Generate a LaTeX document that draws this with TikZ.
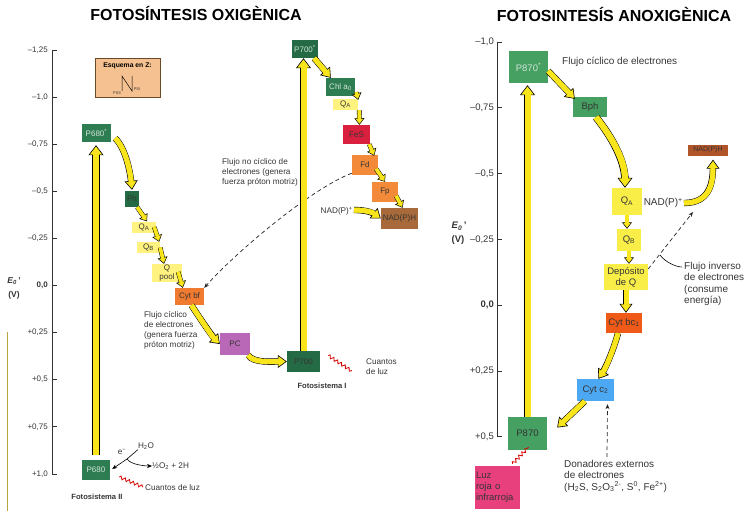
\documentclass[tikz,border=0pt]{standalone}
\usepackage{fontspec}
\setmainfont{Liberation Sans}
\usetikzlibrary{arrows.meta,calc,decorations.pathmorphing}

\definecolor{amarillo}{HTML}{F8E51C}
\definecolor{amclaro}{HTML}{FFF27E}
\definecolor{amvivo}{HTML}{F9EE48}
\definecolor{verdeosc}{HTML}{236A45}
\definecolor{verde}{HTML}{2E7D52}
\definecolor{verdecl}{HTML}{45A062}
\definecolor{verdetexto}{HTML}{D2E4D8}
\definecolor{naranja}{HTML}{F07A30}
\definecolor{naranjacl}{HTML}{F28A3A}
\definecolor{naranjaosc}{HTML}{F05A18}
\definecolor{rojo}{HTML}{D9203E}
\definecolor{marron}{HTML}{A86A3A}
\definecolor{marron2}{HTML}{B0552A}
\definecolor{marronosc}{HTML}{6B4A2A}
\definecolor{morado}{HTML}{B868B6}
\definecolor{tostado}{HTML}{F5C190}
\definecolor{azul}{HTML}{4CA8F2}
\definecolor{rosa}{HTML}{E8407C}
\definecolor{texto}{HTML}{353535}
\definecolor{olivo}{HTML}{B9A43E}

\tikzset{
  caja/.style={inner sep=0pt, align=center, text=texto, font=\fontsize{8}{9}\selectfont},
  cajader/.style={caja, font=\fontsize{9.5}{11}\selectfont},
  etiqueta/.style={inner sep=0pt, align=left, text=texto, font=\fontsize{8.2}{10}\selectfont},
  etiquetader/.style={etiqueta, font=\fontsize{10}{11.5}\selectfont},
  titulo/.style={inner sep=0pt, font=\bfseries\fontsize{16}{18}\selectfont},
  flechagran/.style={draw=amarillo, line width=6pt,
    -{Triangle[length=10pt,width=15pt,line width=0.6pt,color=black,fill=amarillo]},
    preaction={draw=black, line width=7.4pt, arrows=-, shorten >=7pt},
    postaction={draw=amarillo, line width=6pt, arrows=-, shorten >=8.6pt}},
  flecha/.style={draw=amarillo, line width=5pt,
    -{Triangle[length=9pt,width=13pt,line width=0.6pt,color=black,fill=amarillo]},
    preaction={draw=black, line width=6.3pt, arrows=-, shorten >=6pt},
    postaction={draw=amarillo, line width=5pt, arrows=-, shorten >=7.7pt}},
  flechita/.style={draw=amarillo, line width=3.4pt,
    -{Triangle[length=6.5pt,width=10pt,line width=0.5pt,color=black,fill=amarillo]},
    preaction={draw=black, line width=4.6pt, arrows=-, shorten >=4pt},
    postaction={draw=amarillo, line width=3.4pt, arrows=-, shorten >=5.4pt}},
  luz/.style={draw=red!85!black, line width=0.8pt, decorate,
    decoration={snake, amplitude=1.6pt, segment length=4.5pt}},
  discont/.style={draw=black!85, line width=0.7pt, dash pattern=on 4pt off 3pt,
    -{Stealth[length=5pt,width=4pt]}}
}

\begin{document}
\begin{tikzpicture}[x=1pt,y=-1pt]
\useasboundingbox (0,0) rectangle (753,511);

% titulos
\node[titulo] (tit1) at (196,13) {FOTOSÍNTESIS OXIGÈNICA};
\node[titulo] (tit2) at (614,14) {FOTOSINTESÍS ANOXIGÈNICA};

\draw[olivo, line width=1pt] (7,332) -- (7,511);

% eje izquierdo
\draw[line width=0.8pt, black!80] (52,50) -- (52,474);
\foreach \i/\t in {0/{–1,25},1/{–1,0},2/{–0,75},3/{–0,5},4/{–0,25},5/{\textbf{0,0}},6/{+0,25},7/{+0,5},8/{+0,75},9/{+1,0}} {
  \draw[line width=0.8pt, black!80] (52,50+47.1*\i) -- (57,50+47.1*\i);
  \node[etiqueta, anchor=east, font=\fontsize{8}{9}\selectfont] at (48,50+47.1*\i) {\t};
}
\node[etiqueta, font=\bfseries\fontsize{8.5}{10}\selectfont] (E1) at (14,281) {\textit{E}\textsubscript{\textit{0}}\,'};
\node[etiqueta, font=\bfseries\fontsize{8.5}{10}\selectfont] (V1) at (14,295) {(V)};

% esquema en Z
\node[caja, fill=tostado, draw=marronosc, line width=0.6pt, minimum width=65pt, minimum height=39pt] (esquema) at (127.5,77.5) {};
\node[caja, text=black, font=\bfseries\fontsize{6.8}{8}\selectfont] (esqtit) at (127.5,66) {Esquema en Z:};
\draw[line width=0.5pt] (122,91) -- (122,76) -- (132,91) -- (132,76);
\node[caja, font=\fontsize{4}{4}\selectfont] (psii) at (117,93) {PSII};
\node[caja, font=\fontsize{4}{4}\selectfont] (psi) at (137,89) {PSI};

% fotosistema II
\node[caja, fill=verde, text=verdetexto, minimum width=29pt, minimum height=18pt] (P680s) at (96.5,133) {P680\textsuperscript{*}};
\node[caja, fill=verdeosc, minimum width=14pt, minimum height=16pt] (Ph) at (132,199) {Ph};
\node[caja, fill=amclaro, minimum width=24pt, minimum height=11pt] (QA1) at (144,227) {Q\textsubscript{A}};
\node[caja, fill=amclaro, minimum width=23pt, minimum height=11pt] (QB1) at (148.5,247.5) {Q\textsubscript{B}};
\node[caja, fill=amclaro, minimum width=30pt, minimum height=18pt] (Qpool) at (167,273) {Q\\pool};
\node[caja, fill=naranja, minimum width=29pt, minimum height=17pt] (Cytbf) at (189.5,296.5) {Cyt bf};
\node[caja, fill=morado, minimum width=30pt, minimum height=22pt] (PC) at (235,344) {PC};
\node[caja, fill=verde, text=verdetexto, minimum width=28pt, minimum height=20pt] (P680) at (96,470) {P680};

% fotosistema I
\node[caja, fill=verdeosc, minimum width=33pt, minimum height=21pt] (P700) at (303.5,361.5) {P700};
\node[caja, fill=verdeosc, text=verdetexto, minimum width=26pt, minimum height=18pt] (P700s) at (305,49) {P700\textsuperscript{*}};
\node[caja, fill=verde, text=verdetexto, minimum width=29pt, minimum height=18pt] (Chla) at (340.5,87) {Chl a\textsubscript{0}};
\node[caja, fill=amclaro, minimum width=25pt, minimum height=11pt] (QA2) at (345.5,104.5) {Q\textsubscript{A}};
\node[caja, fill=rojo, minimum width=27pt, minimum height=19pt] (FeS) at (356.5,134.5) {FeS};
\node[caja, fill=naranjacl, minimum width=26pt, minimum height=20pt] (Fd) at (365,165) {Fd};
\node[caja, fill=naranjacl, minimum width=26pt, minimum height=20pt] (Fp) at (385,192) {Fp};
\node[caja, fill=marron, minimum width=37pt, minimum height=21pt] (NADPH1) at (399.5,218.5) {NAD(P)H};

% textos izquierda
\node[etiqueta, anchor=north west] (noCiclico) at (222,158) {Flujo no cíclico de\\electrones (genera\\fuerza próton motriz)};
\node[etiqueta, anchor=north west] (ciclico1) at (144,311) {Flujo cíclico\\de electrones\\(genera fuerza\\próton motriz)};
\node[etiqueta, anchor=east] (NADp1) at (353,211) {NAD(P)\textsuperscript{+}};
\node[etiqueta, anchor=north west] (cuantos1) at (366,359) {Cuantos\\de luz};
\node[etiqueta, font=\bfseries\fontsize{7.6}{9}\selectfont] (fotoI) at (322,386) {Fotosistema I};
\node[etiqueta, font=\bfseries\fontsize{7.6}{9}\selectfont] (fotoII) at (97,497) {Fotosistema II};
\node[etiqueta, anchor=west] (cuantos2) at (145,488) {Cuantos de luz};
\node[etiqueta] (H2O) at (146,446) {H\textsubscript{2}O};
\node[etiqueta] (elec) at (122,452) {e\textsuperscript{−}};
\node[etiqueta, anchor=west] (O2) at (152,466) {½O\textsubscript{2} + 2H};
\coordinate (cruce) at (127,459);

% flujo no ciclico
\draw[discont] ($(Fd.south west)+(0,-2)$) .. controls +(-40,15) and +(32,-36) .. (Cytbf.north east);

% flechas izquierda
\draw[flechagran, shorten <=5pt] (P680.north) -- ($(P680.north |- P680s.south)+(0,3)$);
\draw[flechagran] (P700.north) -- (P700.north |- P700s.south);
\draw[flecha] ($(P680s.south east)+(4,-4)$) .. controls +(10,10) and +(-2,-20) .. ($(Ph.north)+(0,-1)$);
\draw[flechita] ($(Ph.south east)+(-2,0)$) -- ($(QA1.north)+(3,0)$);
\draw[flechita] ($(QA1.east)+(-2,0)$) -- ($(QB1.north east)+(-1,0)$);
\draw[flechita] (QB1.east) -- ($(Qpool.north)+(-3,0)$);
\draw[flechita] ($(Qpool.east)+(-4,-1)$) -- ($(Cytbf.north west)+(8,0)$);
\draw[flecha] ($(Cytbf.south)+(2,0)$) .. controls +(5,8) and +(-8,-8) .. (PC.west);
\draw[flecha] ($(PC.south east)+(-2,0)$) .. controls +(5,8) and +(-15,0) .. (P700.west);
\draw[flecha] ($(P700s.south east)+(-4,0)$) -- ($(Chla.north west)+(5,0)$);
\draw[flechita] ($(Chla.south east)+(1,-4)$) -- ($(QA2.north east)+(0,1)$);
\draw[flechita] ($(QA2.south east)+(1,0)$) -- ($(FeS.north)+(3,0)$);
\draw[flechita] ($(FeS.south east)+(-1,0)$) -- ($(Fd.north east)+(-4,1)$);
\draw[flechita] ($(Fd.east)+(-2,4)$) -- (Fp.north);
\draw[flechita] ($(Fp.east)+(-2,4)$) -- ($(NADPH1.north)+(3,0)$);
\draw[flecha] ($(NADp1.east)+(1,-1)$) .. controls +(12,0) and +(-8,-6) .. (NADPH1.west);

% agua y luz
\draw[line width=0.6pt] (H2O.south west) -- (cruce);
\draw[line width=0.6pt, -{Stealth[length=5pt,width=4pt]}] (cruce) -- ($(P680.east)+(2,-1)$);
\draw[line width=0.6pt, -{Stealth[length=5pt,width=4pt]}] (cruce) .. controls +(4,6) and +(-6,0) .. (O2.west);
\draw[luz] ($(P680.east)+(9,7)$) -- ($(cuantos2.west)+(-2,-1)$);
\draw[luz] ($(P700.east)+(8,-6)$) -- ($(cuantos1.west)+(-14,4)$);

% eje derecho
\draw[line width=0.8pt, black!80] (497,42) -- (497,437);
\foreach \i/\t in {0/{–1,0},1/{–0,75},2/{–0,5},3/{–0,25},4/{\textbf{0,0}},5/{+0,25},6/{+0,5}} {
  \draw[line width=0.8pt, black!80] (497,42+65.8*\i) -- (502,42+65.8*\i);
  \node[etiqueta, anchor=east, font=\fontsize{9.5}{11}\selectfont] at (494,42+65.8*\i) {\t};
}
\node[etiqueta, font=\bfseries\fontsize{9.5}{11}\selectfont] (E2) at (459,226) {\textit{E}\textsubscript{\textit{0}}\,'};
\node[etiqueta, font=\bfseries\fontsize{9.5}{11}\selectfont] (V2) at (458,240) {(V)};

% bacterias
\node[cajader, fill=verdecl, text=verdetexto, minimum width=39pt, minimum height=32pt] (P870s) at (528.5,67) {P870\textsuperscript{*}};
\node[cajader, fill=verdecl, minimum width=34pt, minimum height=20pt] (Bph) at (590,107) {Bph};
\node[cajader, fill=amvivo, minimum width=30pt, minimum height=27pt] (QA3) at (627,201.5) {Q\textsubscript{A}};
\node[cajader, fill=amvivo, minimum width=24pt, minimum height=22pt] (QB3) at (629,240) {Q\textsubscript{B}};
\node[cajader, fill=amvivo, minimum width=44pt, minimum height=26pt] (DepQ) at (626,277) {Depósito\\de Q};
\node[cajader, fill=naranjaosc, minimum width=36pt, minimum height=20pt] (Cytbc) at (624,323) {Cyt bc\textsubscript{1}};
\node[cajader, fill=azul, minimum width=37pt, minimum height=22pt] (Cytc2) at (595.5,390) {Cyt c\textsubscript{2}};
\node[cajader, fill=verdecl, minimum width=39pt, minimum height=33pt] (P870) at (527.5,433.5) {P870};
\node[cajader, fill=rosa, align=left, text width=43pt, inner sep=1pt, minimum height=43pt] (Luz) at (497.5,487.5) {Luz\\roja o\\infrarroja};
\node[caja, fill=marron2, minimum width=40pt, minimum height=11pt, font=\fontsize{7}{8}\selectfont] (NADPH2) at (708,150) {NAD(P)H};

% textos derecha
\node[etiquetader, anchor=west] (ciclico2) at (562,62) {Flujo cíclico de electrones};
\node[etiquetader, anchor=east] (NADp2) at (683,203) {NAD(P)\textsuperscript{+}};
\node[etiquetader, anchor=north west] (inverso) at (684,262) {Flujo inverso\\de electrones\\(consume\\energía)};
\node[etiquetader, anchor=north west] (donad) at (564,460) {Donadores externos\\de electrones\\(H\textsubscript{2}S, S\textsubscript{2}O\textsubscript{3}\textsuperscript{2-}, S\textsuperscript{0}, Fe\textsuperscript{2+})};
\coordinate (finInv) at (693,212);
\coordinate (guia) at (660,255);

% flechas derecha
\draw[discont] ($(DepQ.east)+(0,-8)$) -- (finInv);
\draw[line width=0.6pt] (guia) .. controls +(5,7) and +(-6,0) .. ($(inverso.north west)+(-2,5)$);
\draw[discont] ($(donad.north west)+(43,-3)$) -- ($(Cytc2.south)+(12,3)$);
\draw[flechagran] (P870.north) -- ($(P870.north |- P870s.south)+(0,2)$);
\draw[flecha] ($(P870s.east)+(0,4)$) -- ($(Bph.north west)+(2,2)$);
\draw[flechagran] ($(Bph.south)+(6,0)$) .. controls +(12,15) and +(0,-30) .. ($(QA3.north)+(-2,0)$);
\draw[flechita] (QA3.south) -- (QB3.north -| QA3.south);
\draw[flechita] (QB3.south) -- (QB3.south |- DepQ.north);
\draw[flecha] (DepQ.south) -- (DepQ.south |- Cytbc.north);
\draw[flecha] ($(Cytbc.south)+(-6,0)$) .. controls +(-3,12) and +(8,-12) .. ($(Cytc2.north)+(3,0)$);
\draw[flecha] ($(Cytc2.south west)+(8,0)$) -- ($(P870.east)+(10,-6)$);
\draw[flecha] ($(NADp2.east)+(1,0)$) .. controls +(25,0) and +(0,25) .. ($(NADPH2.south)+(5,4)$);
\draw[luz] ($(Luz.north)+(15,-2)$) -- ($(P870.south)+(1,-3)$);
\end{tikzpicture}
\end{document}
